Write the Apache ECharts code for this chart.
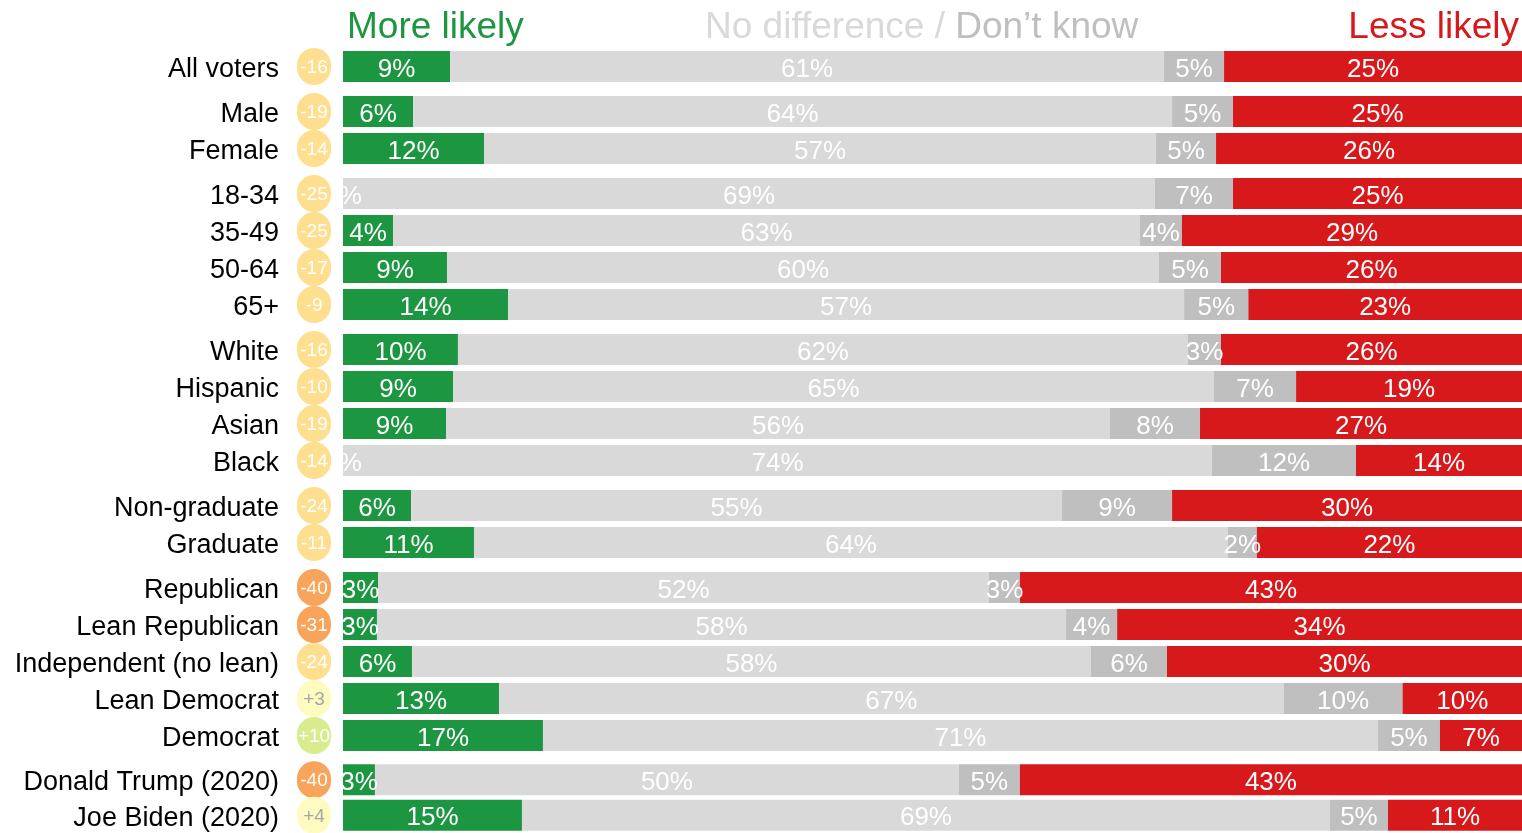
<!DOCTYPE html>
<html>
<head>
<meta charset="utf-8">
<script src="https://cdn.jsdelivr.net/npm/echarts@6/dist/echarts.min.js"></script>
<style>
  html, body { margin: 0; padding: 0; background: #fff; }
  #chart { width: 1522px; height: 833px; }
</style>
</head>
<body>
<div id="chart"></div>
<script>
// row labels, split into groups
var groups = [
  ['All voters'],
  ['Male', 'Female'],
  ['18-34', '35-49', '50-64', '65+'],
  ['White', 'Hispanic', 'Asian', 'Black'],
  ['Non-graduate', 'Graduate'],
  ['Republican', 'Lean Republican', 'Independent (no lean)', 'Lean Democrat', 'Democrat'],
  ['Donald Trump (2020)', 'Joe Biden (2020)']
]
// shares in %
var moreLikely = [9.08, 5.94, 11.96, 0, 4.24, 8.82, 14.0, 9.75, 9.33, 8.74, 0, 5.77, 11.11, 2.97, 2.88, 5.85, 13.23, 16.96, 2.71, 15.18]
var noDifference = [60.56, 64.38, 57.0, 68.87, 63.36, 60.39, 57.34, 61.92, 64.55, 56.32, 73.71, 55.22, 63.95, 51.82, 58.45, 57.59, 66.55, 70.82, 49.53, 68.53]
var dontKnow = [5.09, 5.17, 5.09, 6.62, 3.56, 5.26, 5.45, 2.8, 6.96, 7.63, 12.21, 9.33, 2.45, 2.63, 4.33, 6.45, 10.09, 5.26, 5.17, 4.92]
var lessLikely = [25.28, 24.51, 25.95, 24.51, 28.84, 25.53, 23.21, 25.53, 19.17, 27.31, 14.08, 29.69, 22.49, 42.58, 34.34, 30.11, 10.18, 6.96, 42.6, 11.37]
// net score shown in the circles
var net = [-16, -19, -14, -25, -25, -17, -9, -16, -10, -19, -14, -24, -11, -40, -31, -24, 3, 10, -40, 4]

var FONT = '"Liberation Sans", Arial, sans-serif'
var ROW = 37
var GAP = 8

var segments = [
  { name: 'More likely', data: moreLikely, color: '#1d9641' },
  { name: 'No difference', data: noDifference, color: '#d9d9d9' },
  { name: "Don't know", data: dontKnow, color: '#bfbfbf' },
  { name: 'Less likely', data: lessLikely, color: '#d7191c' }
]

function circleStyle(bg, fg) {
  return {
    width: 34, height: 34, borderRadius: 17, align: 'center', verticalAlign: 'middle',
    backgroundColor: bg, color: fg, fontSize: 19, fontFamily: FONT, padding: [3, 0, 0, 0]
  }
}
function circleClass(v) {
  if (v <= -30) return 'o'
  if (v <= -5) return 'y'
  if (v < 5) return 'p'
  return 'g'
}

var allNames = [].concat.apply([], groups)
var netByName = {}
allNames.forEach(function (n, i) { netByName[n] = net[i] })

var grids = [], xAxes = [], yAxes = [], series = []
var gridTop = 48, start = 0
groups.forEach(function (names, g) {
  grids.push({ left: 343, right: 0, top: gridTop, height: names.length * ROW })
  xAxes.push({ gridIndex: g, type: 'value', min: 0, max: 100, show: false })
  yAxes.push({
    gridIndex: g, type: 'category', inverse: true, data: names, z: 10,
    axisLine: { show: false }, axisTick: { show: false },
    axisLabel: {
      margin: 12,
      interval: 0,
      hideOverlap: false,
      formatter: function (name) {
        var v = netByName[name]
        return '{n|' + name + '}{s|}{' + circleClass(v) + '|' + (v > 0 ? '+' + v : v) + '}'
      },
      rich: {
        n: { fontSize: 27, color: '#000', fontFamily: FONT, verticalAlign: 'middle', padding: [6, 0, 0, 0] },
        s: { width: 18 },
        o: circleStyle('#f8a55b', '#fff'),
        y: circleStyle('#fedf90', '#fff'),
        p: circleStyle('#fefbc0', '#a6a6a6'),
        g: circleStyle('#d8ec8d', '#fff')
      }
    }
  })
  segments.forEach(function (seg) {
    series.push({
      type: 'bar', name: seg.name, xAxisIndex: g, yAxisIndex: g, stack: 'g' + g,
      barWidth: 31,
      itemStyle: { color: seg.color },
      label: {
        show: true, position: 'inside', color: '#fff', fontSize: 26, fontFamily: FONT,
        offset: [0, 3],
        formatter: function (p) { return Math.round(p.value) + '%' }
      },
      data: seg.data.slice(start, start + names.length)
    })
  })
  start += names.length
  gridTop += names.length * ROW + GAP
})

var chart = echarts.init(document.getElementById('chart'))
chart.setOption({
  animation: false,
  grid: grids,
  xAxis: xAxes,
  yAxis: yAxes,
  series: series,
  graphic: [
    { type: 'text', left: 347, top: 9, style: { text: 'More likely', fontSize: 37, fill: '#1d9641', fontFamily: FONT } },
    {
      type: 'text', left: 705, top: 9,
      style: {
        text: '{a|No difference / }{b|Don\u2019t know}', fontFamily: FONT,
        rich: {
          a: { fontSize: 37, fill: '#d9d9d9', fontFamily: FONT },
          b: { fontSize: 37, fill: '#bfbfbf', fontFamily: FONT }
        }
      }
    },
    { type: 'text', right: 3, top: 9, style: { text: 'Less likely', fontSize: 37, fill: '#d7191c', fontFamily: FONT } }
  ]
})
</script>
</body>
</html>
